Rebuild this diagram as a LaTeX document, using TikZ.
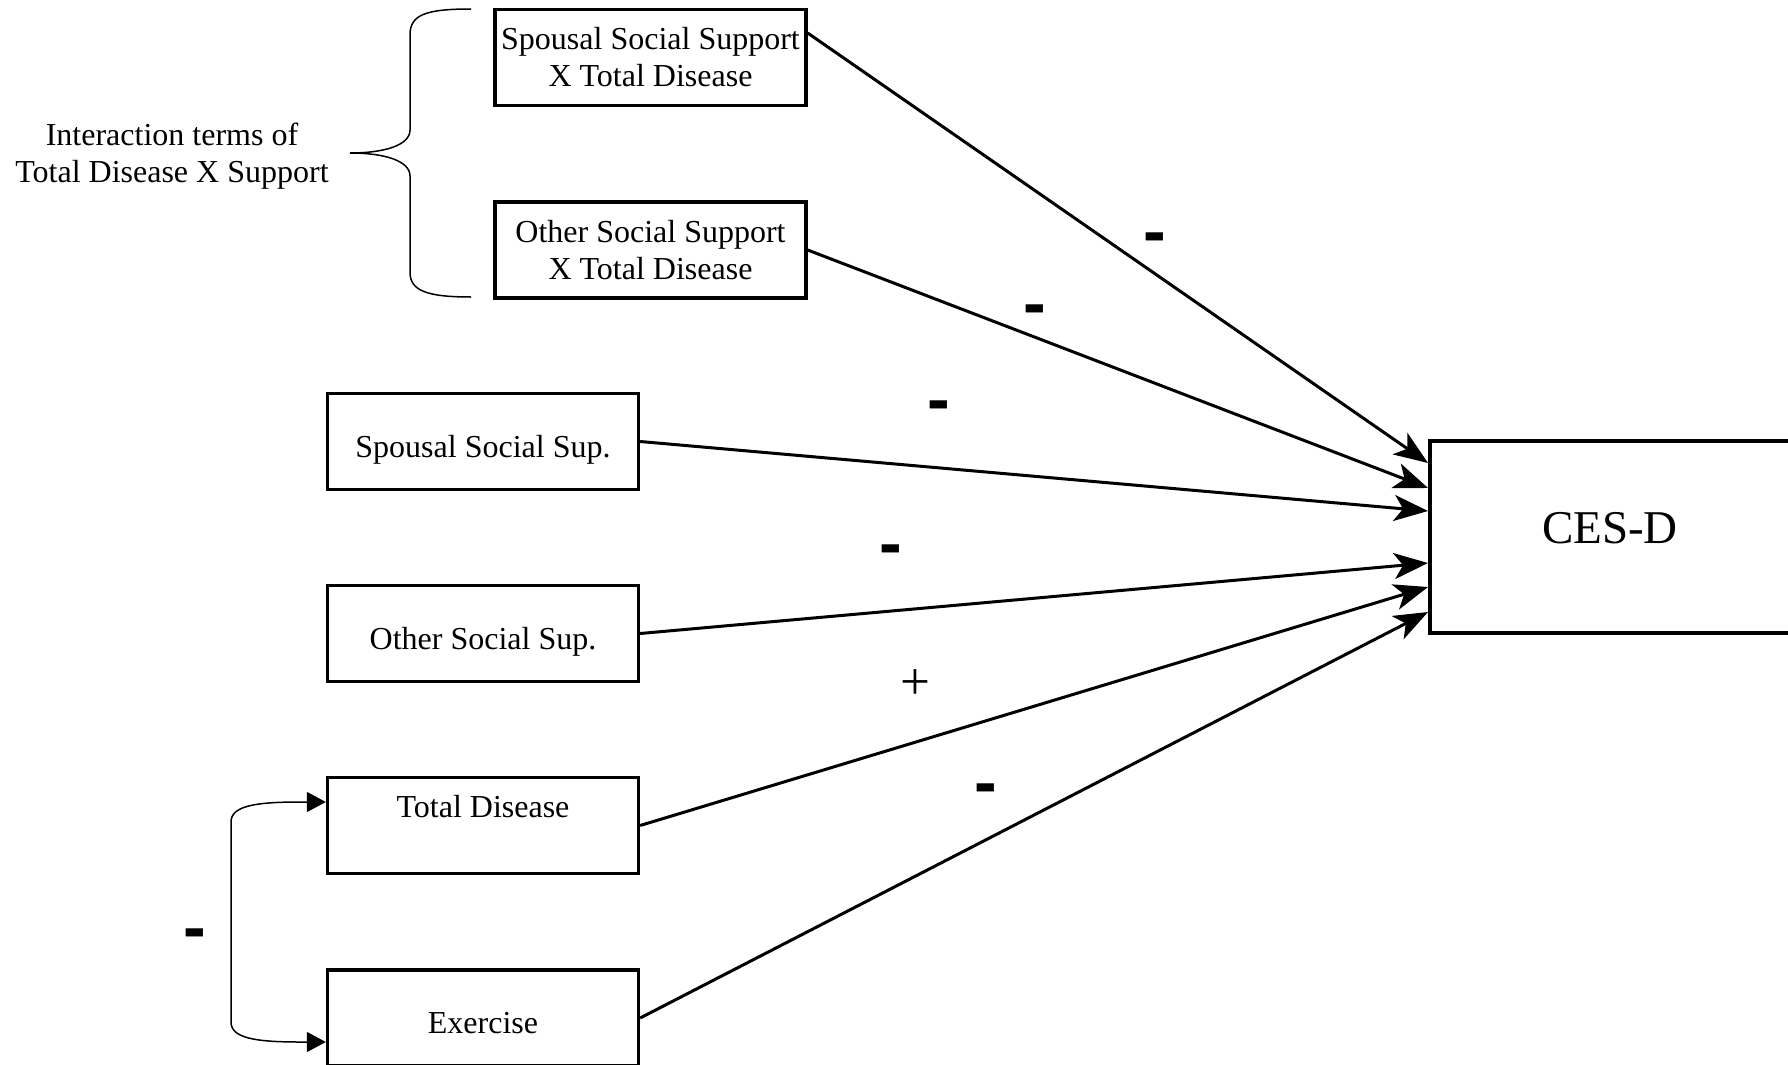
\documentclass[tikz,border=0pt]{standalone}
\usepackage{fontspec}
\setmainfont{Liberation Serif}
\newfontfamily\signfont{Liberation Sans}
\usetikzlibrary{arrows.meta}
\begin{document}
\begin{tikzpicture}[x=1pt,y=-1pt,
  varbox/.style={draw, line width=3.3pt, minimum width=311pt, minimum height=96pt, inner sep=0pt, align=center, font=\fontsize{32}{37}\selectfont},
  onebox/.style={varbox, text height=38pt, text depth=7pt},
  outbox/.style={draw, line width=4pt, minimum width=360pt, minimum height=192pt, inner sep=0pt, font=\fontsize{47}{56}\selectfont, text depth=18pt},
  link/.style={line width=3pt, -{Stealth[length=34pt,width=26pt,inset=9pt]}},
  corr/.style={line width=1.5pt, {Triangle[length=19pt,width=20pt]}-{Triangle[length=19pt,width=20pt]}},
  brace/.style={line width=1.5pt},
  minus/.style={inner sep=0pt, font=\signfont\bfseries\fontsize{68}{68}\selectfont},
  plus/.style={inner sep=0pt, font=\fontsize{53}{53}\selectfont},
  labeltext/.style={align=center, inner sep=0pt, font=\fontsize{32}{37}\selectfont}
]
\useasboundingbox (0,0) rectangle (1788,1065);
\clip (0,0) rectangle (1788,1065);

\node[varbox] (s1) at (650.5,57.5) {Spousal Social Support\\X Total Disease};
\node[varbox] (s2) at (650.5,250) {Other Social Support\\X Total Disease};
\node[onebox] (s3) at (483,441.5) {Spousal Social Sup.};
\node[onebox] (s4) at (483,633.5) {Other Social Sup.};
\node[varbox] (s5) at (483,825.5) {Total Disease\\[-9pt]\strut};
\node[onebox] (s6) at (483,1018) {Exercise};
\node[outbox] (ces) at (1610,537) {CES-D};

\node[labeltext] (lab) at (172,156) {Interaction terms of\\Total Disease X Support};

\draw[brace] (471,9) .. controls (425,9) and (410,15) .. (410,35) -- (410,130)
  .. controls (410,145) and (385,153) .. (350,153)
  .. controls (385,153) and (410,161) .. (410,176) -- (410,272)
  .. controls (410,290) and (425,297) .. (471,297);

\draw[link] ([yshift=24.5pt]s1.east) -- ([yshift=74pt]ces.west);
\draw[link] (s2.east) -- ([yshift=49pt]ces.west);
\draw[link] (s3.east) -- ([yshift=26pt]ces.west);
\draw[link] (s4.east) -- ([yshift=-26pt]ces.west);
\draw[link] (s5.east) -- ([yshift=-50pt]ces.west);
\draw[link] (s6.east) -- ([yshift=-75pt]ces.west);

\draw[corr] ([yshift=23.5pt]s5.west) -- (300,802)
  .. controls (255,802) and (231,806) .. (231,822) -- (231,1022)
  .. controls (231,1038) and (255,1042) .. (300,1042) -- ([yshift=-24pt]s6.west);

\node[minus] (m1) at (1154.5,243.5) {-};
\node[minus] (m2) at (1034.5,315.5) {-};
\node[minus] (m3) at (938.5,411.5) {-};
\node[minus] (m4) at (890.5,555.5) {-};
\node[plus] (p1) at (915,685) {+};
\node[minus] (m5) at (986,795) {-};
\node[minus] (m6) at (194.5,939.5) {-};
\end{tikzpicture}
\end{document}
